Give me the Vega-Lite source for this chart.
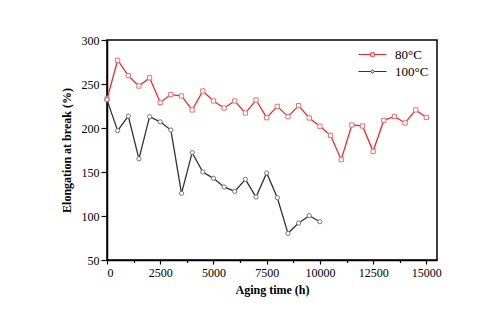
{
  "$schema": "https://vega.github.io/schema/vega-lite/v6.json",
  "autosize": {"type": "none"},
  "padding": {"left": 107, "top": 40, "right": 43, "bottom": 59},
  "width": 330,
  "height": 220,
  "background": "white",
  "config": {
    "view": {"stroke": "black", "strokeWidth": 1.5},
    "font": "Liberation Serif",
    "axis": {
      "domainColor": "black", "domainWidth": 1.5, "tickColor": "black", "tickWidth": 1.2,
      "labelColor": "black", "labelFont": "Liberation Serif", "labelFontSize": 12,
      "titleFont": "Liberation Serif", "titleFontSize": 12, "titleFontWeight": "bold", "titleColor": "black",
      "grid": false
    }
  },
  "data": {
    "values": [
      {"t": 0, "v": 233, "s": "80°C"}, {"t": 500, "v": 277, "s": "80°C"}, {"t": 1000, "v": 259.5, "s": "80°C"},
      {"t": 1500, "v": 247.7, "s": "80°C"}, {"t": 2000, "v": 257, "s": "80°C"}, {"t": 2500, "v": 229, "s": "80°C"},
      {"t": 3000, "v": 238, "s": "80°C"}, {"t": 3500, "v": 236.4, "s": "80°C"}, {"t": 4000, "v": 220.5, "s": "80°C"},
      {"t": 4500, "v": 242, "s": "80°C"}, {"t": 5000, "v": 230.7, "s": "80°C"}, {"t": 5500, "v": 222.7, "s": "80°C"},
      {"t": 6000, "v": 230.7, "s": "80°C"}, {"t": 6500, "v": 217, "s": "80°C"}, {"t": 7000, "v": 231.8, "s": "80°C"},
      {"t": 7500, "v": 211.7, "s": "80°C"}, {"t": 8000, "v": 224.6, "s": "80°C"}, {"t": 8500, "v": 212.9, "s": "80°C"},
      {"t": 9000, "v": 225.4, "s": "80°C"}, {"t": 9500, "v": 211.4, "s": "80°C"}, {"t": 10000, "v": 202, "s": "80°C"},
      {"t": 10500, "v": 191.7, "s": "80°C"}, {"t": 11000, "v": 164, "s": "80°C"}, {"t": 11500, "v": 203.4, "s": "80°C"},
      {"t": 12000, "v": 202.3, "s": "80°C"}, {"t": 12500, "v": 173.5, "s": "80°C"}, {"t": 13000, "v": 208.7, "s": "80°C"},
      {"t": 13500, "v": 213.2, "s": "80°C"}, {"t": 14000, "v": 205.7, "s": "80°C"}, {"t": 14500, "v": 220.5, "s": "80°C"},
      {"t": 15000, "v": 212, "s": "80°C"},
      {"t": 0, "v": 232, "s": "100°C"}, {"t": 500, "v": 197, "s": "100°C"}, {"t": 1000, "v": 213.6, "s": "100°C"},
      {"t": 1500, "v": 165, "s": "100°C"}, {"t": 2000, "v": 212.9, "s": "100°C"}, {"t": 2500, "v": 207, "s": "100°C"},
      {"t": 3000, "v": 197.7, "s": "100°C"}, {"t": 3500, "v": 125.8, "s": "100°C"}, {"t": 4000, "v": 172, "s": "100°C"},
      {"t": 4500, "v": 150, "s": "100°C"}, {"t": 5000, "v": 142.8, "s": "100°C"}, {"t": 5500, "v": 133, "s": "100°C"},
      {"t": 6000, "v": 128, "s": "100°C"}, {"t": 6500, "v": 141.7, "s": "100°C"}, {"t": 7000, "v": 121.6, "s": "100°C"},
      {"t": 7500, "v": 148.9, "s": "100°C"}, {"t": 8000, "v": 120.8, "s": "100°C"}, {"t": 8500, "v": 80.3, "s": "100°C"},
      {"t": 9000, "v": 92, "s": "100°C"}, {"t": 9500, "v": 100.4, "s": "100°C"}, {"t": 10000, "v": 93.5, "s": "100°C"}
    ]
  },
  "encoding": {
    "x": {
      "field": "t", "type": "quantitative",
      "scale": {"domain": [0, 15500], "nice": false, "zero": false},
      "axis": {
        "title": "Aging time (h)", "titlePadding": 6,
        "values": [0, 1250, 2500, 3750, 5000, 6250, 7500, 8750, 10000, 11250, 12500, 13750, 15000],
        "labelExpr": "datum.value % 2500 === 0 ? datum.value : ''",
        "tickSize": {"condition": {"test": "datum.value % 2500 === 0", "value": 4}, "value": 2.5},
        "labelPadding": 3
      }
    },
    "y": {
      "field": "v", "type": "quantitative",
      "scale": {"domain": [50, 300], "nice": false, "zero": false},
      "axis": {"title": "Elongation at break (%)", "values": [50, 100, 150, 200, 250, 300], "tickSize": 6, "labelPadding": 2, "titlePadding": 8}
    }
  },
  "layer": [
    {
      "mark": {"type": "line", "strokeWidth": 1.3},
      "encoding": {
        "color": {
          "field": "s", "type": "nominal",
          "scale": {"domain": ["80°C", "100°C"], "range": ["#ee2a2f", "#333333"]},
          "legend": {
            "title": null, "orient": "none", "legendX": 259, "legendY": 8,
            "symbolType": "M-2.8,0H-0.35M0.35,0H2.8M-0.35,-0.35H0.35V0.35H-0.35Z",
            "symbolSize": 100, "symbolStrokeWidth": 1, "symbolFillColor": "white",
            "labelFont": "Liberation Serif", "labelFontSize": 13, "labelColor": "black", "labelOffset": 16,
            "rowPadding": 3,
            "encode": {
              "symbols": {
                "update": {
                  "shape": {"signal": "datum.value === '80°C' ? 'M-2.8,0H-0.35M0.35,0H2.8M-0.35,-0.35H0.35V0.35H-0.35Z' : 'M-2.8,0H-0.35M0.35,0H2.8M0.3,0A0.3,0.3 0 1,1 -0.3,0A0.3,0.3 0 1,1 0.3,0Z'"}
                }
              }
            }
          }
        }
      }
    },
    {
      "transform": [{"filter": "datum.s === '80°C'"}],
      "mark": {"type": "point", "shape": "square", "filled": false, "fill": "white", "fillOpacity": 1, "stroke": "#f07070", "strokeWidth": 1, "size": 18}
    },
    {
      "transform": [{"filter": "datum.s === '100°C'"}],
      "mark": {"type": "point", "shape": "circle", "filled": false, "fill": "white", "fillOpacity": 1, "stroke": "#777777", "strokeWidth": 1, "size": 18}
    }
  ]
}
